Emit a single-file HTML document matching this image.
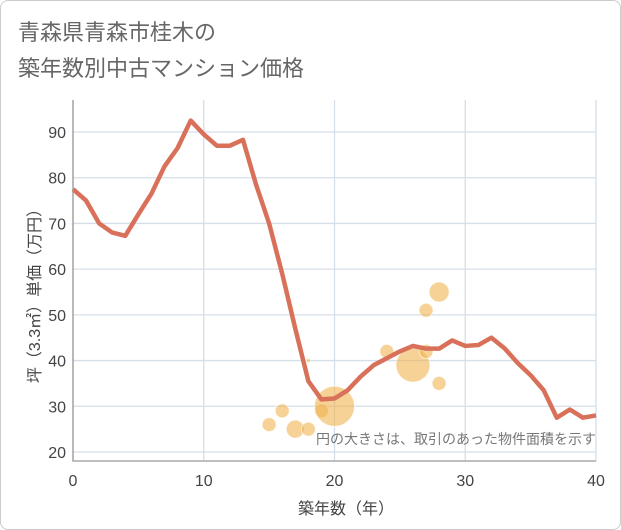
<!DOCTYPE html>
<html><head><meta charset="utf-8"><style>
body{margin:0;background:#fff;font-family:"Liberation Sans","Noto Sans CJK JP",sans-serif}
#wrap{position:relative;width:619px;height:528px;border:1px solid #ccc;border-radius:8px;background:#fff}
</style></head><body>
<div id="wrap">
<svg width="621" height="530" style="position:absolute;left:-1px;top:-1px" id="svg">
<text x="18" y="40" font-size="22" fill="#666" font-family="Liberation Sans, Noto Sans CJK JP, sans-serif">青森県青森市桂木の</text>
<text x="18" y="76" font-size="22" fill="#666" font-family="Liberation Sans, Noto Sans CJK JP, sans-serif">築年数別中古マンション価格</text>
<g id="grid"></g><g id="bubbles"></g><g id="line"></g><g id="axes"></g>
<text x="596" y="444" font-size="14" fill="#777" text-anchor="end" font-family="Liberation Sans, Noto Sans CJK JP, sans-serif">円の大きさは、取引のあった物件面積を示す</text>
<text x="346" y="514" font-size="16" fill="#444" text-anchor="middle" font-family="Liberation Sans, Noto Sans CJK JP, sans-serif">築年数（年）</text>
<text transform="translate(40,292) rotate(-90)" font-size="16" fill="#444" text-anchor="middle" font-family="Liberation Sans, Noto Sans CJK JP, sans-serif">坪（3.3㎡）単価（万円）</text>
</svg>
</div>
<script>
const lineYears=[0,1,2,3,4,5,6,7,8,9,10,11,12,13,14,15,16,17,18,19,20,21,22,23,24,25,26,27,28,29,30,31,32,33,34,35,36,37,38,39,40];
const linePrices=[77.5,75,70,68,67.3,72,76.5,82.5,86.5,92.5,89.5,87,87,88.3,78.5,70,59,47,35.5,31.5,31.7,33.5,36.5,39,40.5,42,43.2,42.6,42.6,44.4,43.2,43.4,45,42.7,39.5,36.8,33.5,27.5,29.3,27.5,28];
const bubbleYears=[15,16,17,18,18,19,20,24,26,27,27,28,28];
const bubblePrices=[26,29,25,25,40,29,30,42,39,51,42,55,35];
const bubbleSizes=[7,7,9,7,2,7,20,7,17,7,7,10,7];
const xTicks=[0,10,20,30,40];
const yTicks=[20,30,40,50,60,70,80,90];
const X0=73,X1=596,Y0=461,Y1=100;
const xs=v=>X0+(v-0)/40*(X1-X0);
const ys=v=>452-(v-20)*(320/70);
const NS="http://www.w3.org/2000/svg";
function mk(t,p,a){const e=document.createElementNS(NS,t);for(const k in a)e.setAttribute(k,a[k]);p.appendChild(e);return e;}
const grid=document.getElementById('grid'),axes=document.getElementById('axes');
for(const t of xTicks){
 const l=mk('line',grid,{x1:xs(t),x2:xs(t),y1:Y1,y2:Y0,stroke:'#d5dfe9','stroke-width':1.3});
 
 
 const tx=mk('text',axes,{x:xs(t),y:486,'font-size':16,fill:'#444','text-anchor':'middle'});tx.textContent=t;
 
 
}
for(const t of yTicks){
 const l=mk('line',grid,{x1:X0,x2:X1,y1:ys(t),y2:ys(t),stroke:'#d5dfe9','stroke-width':1.3});
 
 
 const tx=mk('text',axes,{x:66,y:ys(t)+6,'font-size':16,fill:'#444','text-anchor':'end'});tx.textContent=t;
 
 
}
const ax=mk('path',axes,{d:`M${X0} ${Y1}V${Y0}H${X1}`,stroke:'#999',fill:'none','stroke-width':1.3});


const bg=document.getElementById('bubbles');
bubbleYears.forEach((y,i)=>{
 const c=mk('circle',bg,{cx:xs(y),cy:ys(bubblePrices[i]),r:bubbleSizes[i],fill:'rgba(240,180,80,0.6)',stroke:'rgba(255,255,255,0.6)','stroke-width':1});
 
 
});
const p=mk('polyline',document.getElementById('line'),{points:lineYears.map((y,i)=>xs(y)+','+ys(linePrices[i])).join(' '),fill:'none',stroke:'#d9705a','stroke-width':4.5,'stroke-linejoin':'round'});


</script>
</body></html>
